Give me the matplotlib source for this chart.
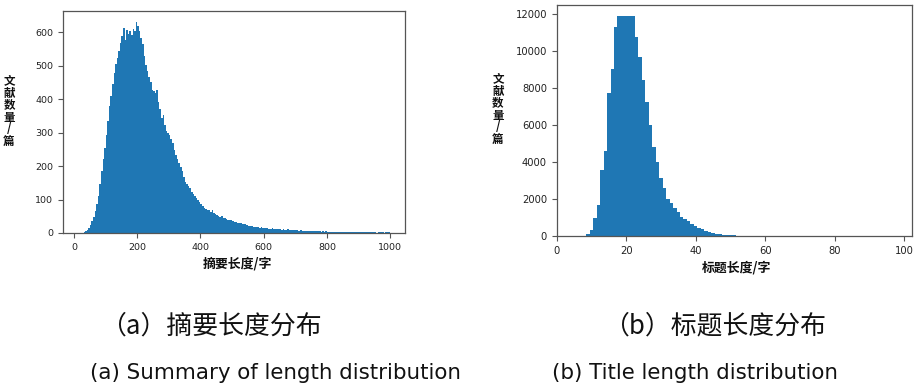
#!/usr/bin/env python3
"""
摘要长度 / 标题长度 分布直方图
"""

import numpy as np
import matplotlib
matplotlib.use("Agg")
import matplotlib.pyplot as plt

# ============================================================================
# 数据区域
# ============================================================================

# 摘要长度直方图：起始边界、箱宽、每箱文献数量
ABSTRACT_BIN_START = 30
ABSTRACT_BIN_WIDTH = 5
ABSTRACT_COUNTS = [
    2, 5, 10, 16, 25, 36, 48, 66, 88, 112,               # 30-75
    148, 185, 222, 255, 292, 335, 380, 410, 445, 478,    # 80-125
    505, 522, 545, 568, 588, 612, 578, 606, 596, 605,    # 130-175
    592, 610, 604, 630, 618, 605, 582, 566, 528, 503,    # 180-225
    486, 466, 452, 428, 424, 418, 428, 392, 372, 345,    # 230-275
    352, 322, 306, 298, 293, 280, 268, 248, 233, 222,    # 280-325
    208, 198, 184, 168, 154, 148, 142, 134, 124, 118,    # 330-375
    112, 104, 98, 93, 86, 80, 75, 71, 68, 70,            # 380-425
    63, 68, 59, 56, 55, 52, 49, 50, 45, 44,              # 430-475
    43, 40, 38, 39, 35, 33, 33, 31, 29, 30,              # 480-525
    27, 26, 26, 23, 22, 22, 20, 19, 19, 17,              # 530-575
    17, 16, 17, 15, 15, 14, 15, 13, 13, 14,              # 580-625
    12, 11, 13, 11, 13, 10, 11, 10, 10, 11,              # 630-675
    9, 9, 8, 9, 8, 8, 7, 8, 7, 7,                        # 680-725
    6, 7, 6, 7, 5, 5, 6, 6, 5, 5,                        # 730-775
    4, 5, 4, 5, 4, 4, 4, 3, 3, 4,                        # 780-825
    4, 3, 3, 3, 3, 3, 2, 2, 3, 3,                        # 830-875
    2, 2, 3, 2, 2, 2, 3, 2, 2, 2,                        # 880-925
    2, 2, 2, 2, 2, 1, 2, 2, 2, 2,                        # 930-975
    1, 2, 2, 2,                                          # 980-995
]

# 标题长度直方图
TITLE_BIN_START = 8.5
TITLE_BIN_WIDTH = 1
TITLE_COUNTS = [
    108, 324, 954, 1673, 3563, 4606, 7701, 9015, 11300,      # 9-17
    11870, 11870, 11870, 11870, 11870,                       # 18-22
    10760, 9681, 8421, 7252, 5992, 4822, 3977, 3149,         # 23-30
    2573, 2015, 1763, 1493, 1277, 1043, 930, 810, 648, 540,  # 31-40
    450, 360, 288, 216, 162, 126, 90, 63, 45, 36,            # 41-50
    27, 20, 15, 11, 8, 6, 5, 4, 3, 2,                        # 51-60
    2, 1, 1, 1, 1,                                           # 61-65
]

ABSTRACT_XTICKS = [0, 200, 400, 600, 800, 1000]
ABSTRACT_YTICKS = [0, 100, 200, 300, 400, 500, 600]
TITLE_XTICKS = [0, 20, 40, 60, 80, 100]
TITLE_YTICKS = [0, 2000, 4000, 6000, 8000, 10000, 12000]

YLABEL = "文献数量/篇"
ABSTRACT_XLABEL = "摘要长度/字"
TITLE_XLABEL = "标题长度/字"
CAPTION_CN = ["（a）摘要长度分布", "（b）标题长度分布"]
CAPTION_EN = ["(a) Summary of length distribution", "(b) Title length distribution"]

# ============================================================================
# 样式
# ============================================================================

W, H = 923, 390
BAR_COLOR = "#1f77b4"
SPINE_COLOR = "#555555"
CJK = ["Noto Sans CJK SC", "DejaVu Sans"]


def px(x, y):
    """像素坐标 -> figure 坐标"""
    return x / W, 1 - y / H


def axes_rect(left, top, right, bottom):
    return [left / W, 1 - bottom / H, (right - left) / W, (bottom - top) / H]


def style_axes(ax, xticks, yticks, fontsize):
    ax.set_xticks(xticks)
    ax.set_yticks(yticks)
    ax.tick_params(labelsize=fontsize, colors="#222222", length=3.5, width=0.8)
    ax.tick_params(axis="both", color=SPINE_COLOR)
    for sp in ax.spines.values():
        sp.set_color(SPINE_COLOR)
        sp.set_linewidth(0.9)


def main():
    fig = plt.figure(figsize=(W / 100, H / 100), dpi=100)

    # (a) 摘要长度
    ax1 = fig.add_axes(axes_rect(63, 11, 405, 233))
    edges1 = ABSTRACT_BIN_START + ABSTRACT_BIN_WIDTH * np.arange(len(ABSTRACT_COUNTS) + 1)
    ax1.stairs(ABSTRACT_COUNTS, edges1, fill=True, color=BAR_COLOR)
    ax1.set_xlim(-35, 1047)
    ax1.set_ylim(0, 664)
    style_axes(ax1, ABSTRACT_XTICKS, ABSTRACT_YTICKS, 6.8)

    # (b) 标题长度
    ax2 = fig.add_axes(axes_rect(556.7, 5, 912, 236))
    edges2 = TITLE_BIN_START + TITLE_BIN_WIDTH * np.arange(len(TITLE_COUNTS) + 1)
    ax2.stairs(TITLE_COUNTS, edges2, fill=True, color=BAR_COLOR)
    ax2.set_xlim(0, 102.3)
    ax2.set_ylim(0, 12470)
    style_axes(ax2, TITLE_XTICKS, TITLE_YTICKS, 7.2)

    # 纵轴标签：竖排文字
    vlabel = "\n".join(YLABEL)
    for x, y in [(9, 111), (498, 109)]:
        fig.text(*px(x, y), vlabel, family=CJK, fontsize=8.3, fontweight="bold",
                 ha="center", va="center", linespacing=0.9, color="#111111")

    # 横轴标签
    fig.text(*px(237.5, 263), ABSTRACT_XLABEL, family=CJK, fontsize=9.3,
             fontweight="bold", ha="center", va="center", color="#111111")
    fig.text(*px(736.7, 268), TITLE_XLABEL, family=CJK, fontsize=9.3,
             fontweight="bold", ha="center", va="center", color="#111111")

    # 图注
    for x, text in zip([211, 715], CAPTION_CN):
        fig.text(*px(x, 326), text, family=CJK, fontsize=18.6,
                 ha="center", va="center", color="#111111")
    for x, text in zip([276, 695], CAPTION_EN):
        fig.text(*px(x, 373), text, family="DejaVu Sans",
                 fontsize=15.4, ha="center", va="center", color="#111111")

    fig.savefig("out.png", dpi=100)
    plt.close(fig)


if __name__ == "__main__":
    main()
